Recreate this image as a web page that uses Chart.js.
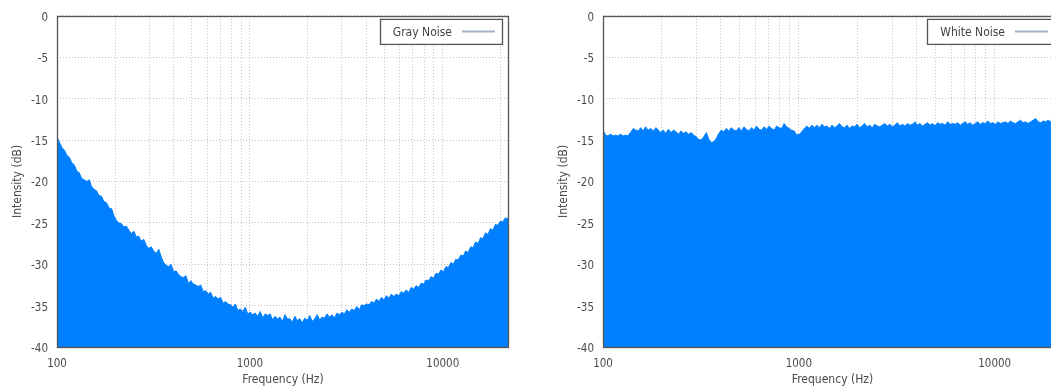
<!DOCTYPE html>
<html>
<head>
<meta charset="utf-8">
<title>Noise spectra</title>
<script src="https://cdn.jsdelivr.net/npm/chart.js@4.4.1/dist/chart.umd.min.js"></script>
<style>
  html, body { margin: 0; padding: 0; background: #fff; overflow: hidden; width: 1051px; height: 388px; }
  canvas { position: absolute; top: 0; }
  #grayCanvas { left: 0; }
  #whiteCanvas { left: 546px; }
</style>
</head>
<body>
<canvas id="grayCanvas" width="530" height="388"></canvas>
<canvas id="whiteCanvas" width="536" height="388"></canvas>
<script>
// Frequency bins (Hz) shared by both spectra
const frequencies = [
  100, 103, 106, 109, 113, 116, 119, 123, 127, 130,
  134, 138, 143, 147, 151, 156, 160, 165, 170, 175,
  181, 186, 192, 197, 203, 209, 216, 222, 229, 236,
  243, 250, 258, 265, 273, 282, 290, 299, 308, 317,
  327, 337, 347, 357, 368, 379, 390, 402, 414, 426,
  439, 452, 466, 480, 494, 509, 524, 540, 556, 573,
  590, 608, 626, 645, 664, 684, 705, 726, 748, 770,
  793, 817, 841, 867, 893, 919, 947, 975, 1004, 1035,
  1066, 1098, 1131, 1165, 1200, 1236, 1273, 1311, 1350, 1391,
  1433, 1476, 1520, 1565, 1612, 1661, 1711, 1762, 1815, 1869,
  1925, 1983, 2043, 2104, 2167, 2232, 2299, 2368, 2439, 2512,
  2587, 2665, 2745, 2827, 2912, 2999, 3089, 3182, 3277, 3376,
  3477, 3581, 3689, 3799, 3913, 4031, 4152, 4276, 4405, 4537,
  4673, 4813, 4957, 5106, 5259, 5417, 5580, 5747, 5919, 6097,
  6280, 6468, 6662, 6862, 7068, 7280, 7498, 7723, 7955, 8194,
  8440, 8693, 8954, 9222, 9499, 9784, 10078, 10380, 10691, 11012,
  11342, 11683, 12033, 12394, 12766, 13149, 13544, 13950, 14369, 14800,
  15244, 15701, 16172, 16657, 17157, 17672, 18202, 18748, 19310, 19890,
  20486, 21101, 21734, 22050
];

// Gray noise intensity (dB)
const grayNoise = [
  -14.6, -15.3, -15.9, -16.2, -16.9, -17.1, -17.7, -18.0, -18.8, -18.9,
  -19.6, -19.8, -20.0, -19.8, -20.6, -21.0, -21.1, -21.7, -21.8, -22.4,
  -22.6, -23.2, -23.3, -24.1, -24.7, -25.0, -25.1, -25.5, -25.4, -25.9,
  -26.3, -26.0, -26.7, -26.6, -27.2, -27.0, -27.7, -28.1, -27.9, -28.4,
  -28.7, -28.2, -29.1, -29.8, -30.1, -30.3, -30.0, -30.9, -30.8, -31.2,
  -31.5, -31.6, -31.4, -32.3, -32.0, -32.4, -32.5, -32.7, -32.5, -33.3,
  -33.2, -33.6, -33.4, -34.1, -33.9, -34.2, -34.0, -34.7, -34.5, -34.8,
  -34.9, -35.2, -34.8, -35.6, -35.4, -35.7, -35.2, -36.0, -35.8, -36.1,
  -35.9, -36.3, -35.7, -36.5, -36.0, -36.2, -36.0, -36.7, -36.3, -36.6,
  -36.4, -36.9, -36.1, -36.6, -36.6, -37.0, -36.3, -36.8, -36.6, -37.1,
  -36.5, -36.8, -36.2, -36.9, -36.6, -36.1, -36.7, -36.4, -36.5, -36.0,
  -36.4, -36.1, -36.5, -35.9, -36.1, -35.8, -36.0, -35.5, -35.8, -35.4,
  -35.6, -35.1, -35.5, -34.9, -35.0, -34.8, -34.9, -34.5, -34.7, -34.2,
  -34.5, -34.0, -34.3, -33.8, -34.1, -33.6, -33.9, -33.6, -33.8, -33.3,
  -33.5, -33.1, -33.4, -32.8, -33.0, -32.6, -32.8, -32.3, -32.4, -31.9,
  -32.0, -31.5, -31.7, -31.1, -31.2, -30.7, -30.9, -30.3, -30.4, -29.8,
  -30.0, -29.4, -29.5, -28.9, -29.0, -28.4, -28.6, -27.9, -28.0, -27.3,
  -27.5, -26.8, -26.9, -26.2, -26.4, -25.7, -25.9, -25.2, -25.3, -24.8,
  -24.9, -24.4, -24.5, -24.2
];

// White noise intensity (dB)
const whiteNoise = [
  -13.8, -14.4, -14.5, -14.3, -14.5, -14.4, -14.5, -14.3, -14.5, -14.4,
  -14.5, -14.1, -13.6, -13.8, -13.9, -13.5, -13.9, -13.4, -13.8, -13.6,
  -13.9, -13.5, -13.8, -14.1, -13.8, -14.2, -13.7, -14.1, -13.8, -14.0,
  -14.3, -13.9, -14.2, -14.0, -14.3, -14.1, -14.4, -14.6, -14.9, -15.0,
  -14.6, -14.1, -14.9, -15.3, -15.2, -14.8, -14.2, -13.8, -14.0, -13.6,
  -13.9, -13.5, -13.8, -13.9, -13.5, -13.9, -13.4, -13.7, -13.9, -13.5,
  -13.8, -13.3, -13.7, -13.8, -13.4, -13.7, -13.3, -13.6, -13.8, -13.3,
  -13.5, -13.6, -13.0, -13.4, -13.6, -13.8, -13.9, -14.4, -14.3, -14.0,
  -13.6, -13.3, -13.6, -13.2, -13.5, -13.2, -13.5, -13.1, -13.4, -13.3,
  -13.6, -13.2, -13.5, -13.3, -13.0, -13.4, -13.5, -13.2, -13.6, -13.3,
  -13.4, -13.1, -13.5, -13.3, -13.0, -13.4, -13.2, -13.5, -13.1, -13.3,
  -13.4, -13.2, -13.0, -13.3, -13.1, -13.4, -13.2, -12.9, -13.3, -13.1,
  -13.3, -13.0, -13.2, -13.1, -12.8, -13.2, -13.0, -13.3, -13.1, -12.9,
  -13.2, -13.0, -13.3, -12.9, -13.1, -13.0, -13.2, -12.8, -13.1, -13.0,
  -13.1, -12.9, -13.2, -13.0, -12.8, -13.1, -12.9, -13.2, -13.0, -12.8,
  -13.1, -12.9, -13.0, -12.7, -13.0, -12.9, -13.1, -12.8, -13.0, -12.9,
  -12.8, -13.0, -12.7, -12.9, -13.0, -12.8, -12.6, -12.9, -12.8, -13.0,
  -12.8, -12.6, -12.4, -12.8, -12.9, -12.7, -12.8, -12.6, -12.8, -12.7,
  -12.7, -12.6, -12.8, -12.7
];

// Grid positions on the frequency axis and which of them carry a label
const freqGridTicks = [
  100, 200, 300, 400, 500, 600, 700, 800, 900,
  1000, 2000, 3000, 4000, 5000, 6000, 7000, 8000, 9000,
  10000, 20000
];
const freqLabels = [100, 1000, 10000];

const FONT_FAMILY = "'DejaVu Sans Condensed', 'DejaVu Sans', sans-serif";
const TEXT_COLOR = '#4a4a4a';
const FILL_COLOR = '#0080ff';

// Frame around the plot area plus a boxed key in the upper right corner
const framePlugin = {
  id: 'frameKey',
  afterDatasetsDraw(chart, args, opts) {
    const { ctx, chartArea: a } = chart;
    ctx.save();
    ctx.strokeStyle = '#555';
    ctx.lineWidth = 1.3;
    ctx.strokeRect(Math.round(a.left) + 0.5, Math.round(a.top) + 0.5,
                   Math.round(a.right - a.left) - 1, Math.round(a.bottom - a.top));

    const label = chart.data.datasets[0].label;
    ctx.font = '12px ' + FONT_FAMILY;
    const tw = ctx.measureText(label).width;
    const boxRight = a.right - 7;
    const boxTop = a.top + 3;
    const boxH = 25;
    const lineEnd = boxRight - 7;
    const lineStart = lineEnd - 33;
    const textRight = lineStart - 10;
    const boxLeft = textRight - tw - 13;
    ctx.fillStyle = '#fff';
    ctx.fillRect(boxLeft, boxTop, boxRight - boxLeft, boxH);
    ctx.strokeStyle = '#555';
    ctx.lineWidth = 1.3;
    ctx.strokeRect(Math.round(boxLeft) + 0.5, boxTop + 0.5, Math.round(boxRight - boxLeft), boxH);
    ctx.fillStyle = '#444';
    ctx.textAlign = 'right';
    ctx.textBaseline = 'middle';
    ctx.fillText(label, textRight, boxTop + boxH / 2 + 1);
    ctx.strokeStyle = opts.keyColor || '#a6b2c4';
    ctx.lineWidth = 2;
    ctx.beginPath();
    ctx.moveTo(lineStart, boxTop + boxH / 2);
    ctx.lineTo(lineEnd, boxTop + boxH / 2);
    ctx.stroke();
    ctx.restore();
  }
};

function makePanel(canvasId, label, values, rightPad) {
  const points = frequencies.map((f, i) => ({ x: f, y: values[i] }));
  const tickFont = { family: FONT_FAMILY, size: 11.5 };
  const titleFont = { family: FONT_FAMILY, size: 12 };
  return new Chart(document.getElementById(canvasId), {
    type: 'line',
    data: {
      datasets: [{
        label: label,
        data: points,
        fill: 'start',
        backgroundColor: FILL_COLOR,
        borderColor: FILL_COLOR,
        borderWidth: 1,
        pointRadius: 0,
        tension: 0
      }]
    },
    options: {
      responsive: false,
      animation: false,
      events: [],
      layout: { padding: { top: 15, right: rightPad, bottom: 0, left: 0 } },
      plugins: {
        legend: { display: false },
        tooltip: { enabled: false },
        frameKey: { keyColor: '#a6b2c4' }
      },
      scales: {
        x: {
          type: 'logarithmic',
          min: 100,
          max: 22050,
          afterBuildTicks: (scale) => { scale.ticks = freqGridTicks.map(v => ({ value: v })); },
          afterFit: (scale) => { scale.height = 41; },
          ticks: {
            autoSkip: false,
            maxRotation: 0,
            padding: 10,
            color: TEXT_COLOR,
            font: tickFont,
            callback: (v) => freqLabels.includes(v) ? String(v) : ''
          },
          grid: { color: '#c4c4c4', lineWidth: 1, drawTicks: false },
          border: { display: false, dash: [1, 2] },
          title: {
            display: true,
            text: 'Frequency (Hz)',
            color: TEXT_COLOR,
            font: titleFont,
            padding: { top: 0, bottom: 1 }
          }
        },
        y: {
          min: -40,
          max: 0,
          afterFit: (scale) => { scale.width = 57; },
          ticks: {
            stepSize: 5,
            padding: 9,
            labelOffset: 2,
            color: TEXT_COLOR,
            font: tickFont
          },
          grid: { color: '#c4c4c4', lineWidth: 1, drawTicks: false },
          border: { display: false, dash: [1, 2] },
          title: {
            display: true,
            text: 'Intensity (dB)',
            color: TEXT_COLOR,
            font: titleFont,
            padding: { top: 11, bottom: 0 }
          }
        }
      }
    },
    plugins: [framePlugin]
  });
}

makePanel('grayCanvas', 'Gray Noise', grayNoise, 21);
makePanel('whiteCanvas', 'White Noise', whiteNoise, 20);
</script>
</body>
</html>
